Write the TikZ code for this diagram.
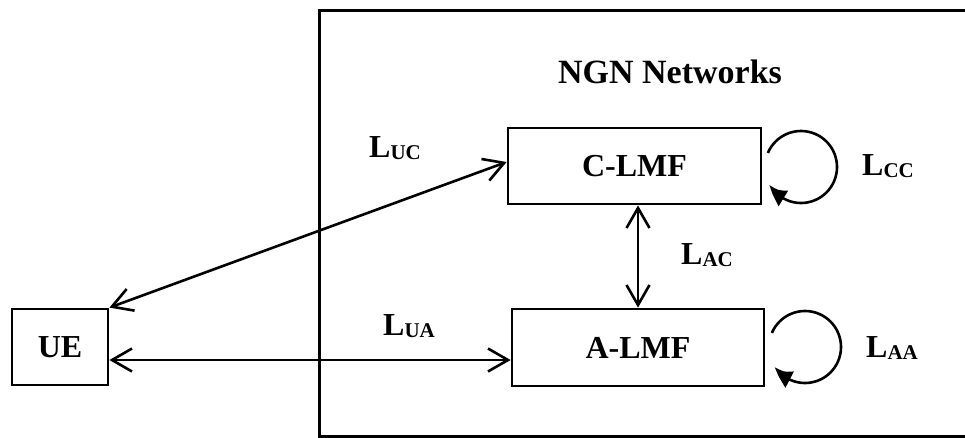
\documentclass[tikz,border=0pt]{standalone}
\usepackage{fontspec}
\setmainfont{Liberation Serif}
\usetikzlibrary{arrows.meta,bending}
\newcommand\Lsub[1]{L\raisebox{-2pt}{\fontsize{21}{21}\selectfont #1}}
\tikzset{
  barbtip/.tip={Straight Barb[length=20pt,width=23pt,line width=2.6pt]},
  box/.style={draw, line width=2.8pt, minimum width=#1, inner sep=0pt},
  lbl/.style={font=\fontsize{32}{36}\selectfont\bfseries, inner sep=0pt},
  link/.style={line width=2.6pt, {barbtip}-{barbtip}},
  loop/.style={line width=2.6pt, -{Latex[length=20pt,width=19pt,bend]}}
}
\begin{document}
\begin{tikzpicture}[x=1pt,y=-1pt]
\useasboundingbox (0,0) rectangle (965,437);
% outer network box (runs off the right edge)
\draw[line width=3pt] (990,10) -- (319,10) -- (319,436) -- (990,436);
\node[lbl] (title) at (670,72) {\fontsize{34}{38}\selectfont NGN Networks};
\node[box=96pt, minimum height=76pt, lbl] (ue) at (60,347) {UE};
\node[box=253pt, minimum height=76pt, lbl] (c) at (634.5,166) {C-LMF};
\node[box=252pt, minimum height=77pt, lbl] (a) at (638,347.5) {A-LMF};
\coordinate (cin) at ([yshift=4pt]c.west);
\coordinate (uein) at ([yshift=-13pt]ue.east);
\coordinate (ain) at (a.west |- uein);
\draw[link] (ue.north east) -- (cin);
\draw[link] (uein) -- (ain);
\draw[link] (a.north) -- (a.north |- c.south);
% self loops
\coordinate (cc) at (801,167);
\coordinate (ac) at (805,347);
\draw[loop] ([shift={(157:36pt)}]cc) arc[start angle=157, end angle=-151, radius=36pt];
\draw[loop] ([shift={(157:36pt)}]ac) arc[start angle=157, end angle=-147, radius=36pt];
% labels
\node[lbl] (luc) at (395,148) {\Lsub{UC}};
\node[lbl] (lua) at (409,326) {\Lsub{UA}};
\node[lbl] (lac) at (707,255) {\Lsub{AC}};
\node[lbl] (lcc) at (888,166) {\Lsub{CC}};
\node[lbl] (laa) at (892,348) {\Lsub{AA}};
\end{tikzpicture}
\end{document}
